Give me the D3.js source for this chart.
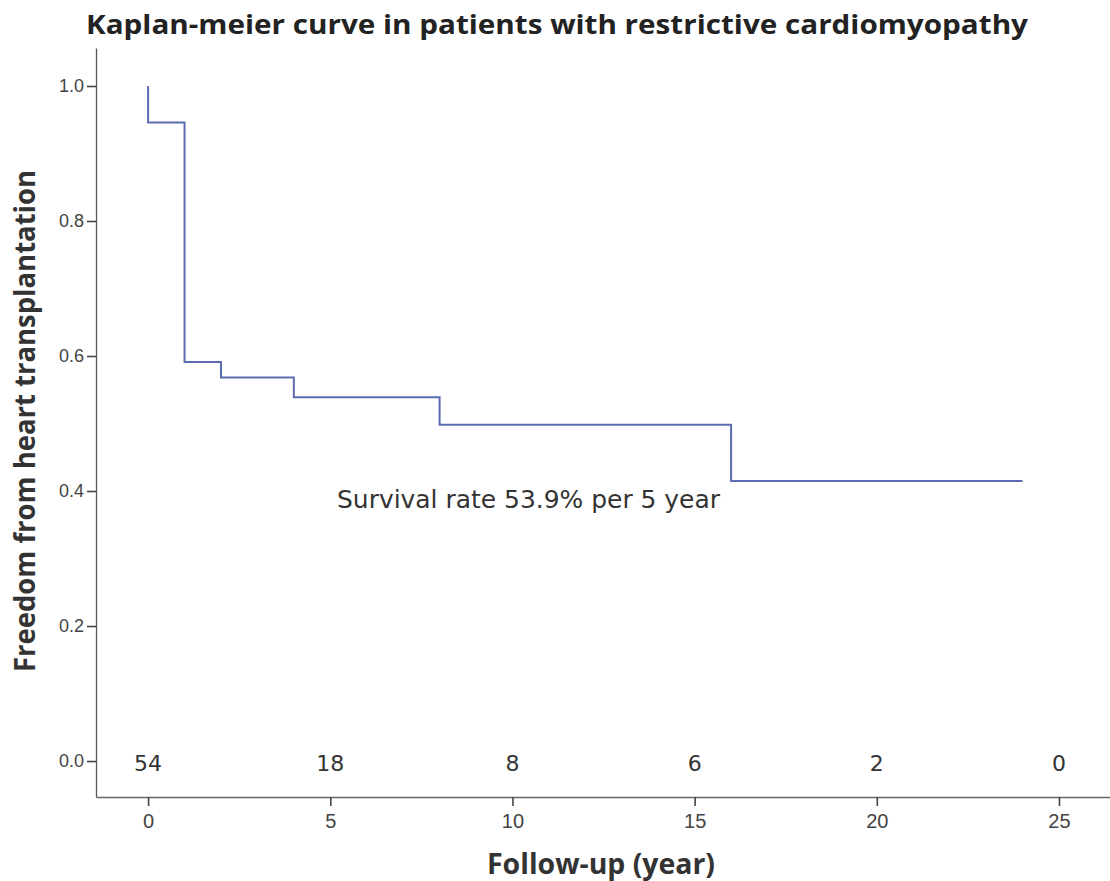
<!DOCTYPE html>
<html>
<head>
<meta charset="utf-8">
<script src="https://cdn.jsdelivr.net/npm/d3@7"></script>
<style>
  body { margin: 0; background: #fff; }
  text { fill: #333; }
</style>
</head>
<body>
<div id="km-chart"></div>
<script>
// step times (years) and survival levels after each step
const stepTimes = [0, 0, 1, 2, 4, 8, 16, 24];
const survival = [1.0, 0.946, 0.591, 0.568, 0.539, 0.498, 0.415, 0.415];
const riskTimes = [0, 5, 10, 15, 20, 25];
const riskCounts = [54, 18, 8, 6, 2, 0];
const xTicks = [0, 5, 10, 15, 20, 25];
const yTicks = [0.0, 0.2, 0.4, 0.6, 0.8, 1.0];

const width = 1110;
const height = 881;
const plot = { left: 96, right: 1110, top: 48, bottom: 797 };

const svg = d3.select("#km-chart")
  .append("svg")
  .attr("width", width)
  .attr("height", height)
  .style("display", "block");

const x = d3.scaleLinear()
  .domain([-1.43, 26.4])
  .range([plot.left, plot.right]);

const y = d3.scaleLinear()
  .domain([-0.0533, 1.0563])
  .range([plot.bottom, plot.top]);

// title
svg.append("text")
  .attr("x", 557)
  .attr("y", 34)
  .attr("text-anchor", "middle")
  .attr("textLength", 942)
  .attr("lengthAdjust", "spacingAndGlyphs")
  .style("font-family", "'Open Sans', sans-serif")
  .style("font-weight", "700")
  .style("font-size", "27px")
  .style("fill", "#222")
  .text("Kaplan-meier curve in patients with restrictive cardiomyopathy");

// axes
svg.append("g")
  .attr("transform", `translate(${plot.left},0)`)
  .call(d3.axisLeft(y).tickValues(yTicks).tickFormat(d3.format(".1f")).tickSize(9).tickSizeOuter(0))
  .call((g) => g.select(".domain").attr("stroke", "#555").attr("stroke-width", 1.3))
  .call((g) => g.selectAll(".tick line").attr("stroke", "#444").attr("stroke-width", 1.6))
  .call((g) => g.selectAll("text")
    .attr("x", -12)
    .style("font-family", "'Liberation Sans', Arial, sans-serif")
    .style("font-size", "18px")
    .style("fill", "#444"));

svg.append("g")
  .attr("transform", `translate(0,${plot.bottom})`)
  .call(d3.axisBottom(x).tickValues(xTicks).tickSize(9).tickSizeOuter(0))
  .call((g) => g.select(".domain").attr("stroke", "#666").attr("stroke-width", 1.3))
  .call((g) => g.selectAll(".tick line").attr("stroke", "#444").attr("stroke-width", 1.6))
  .call((g) => g.selectAll("text")
    .attr("y", 17)
    .style("font-family", "'Liberation Sans', Arial, sans-serif")
    .style("font-size", "20px")
    .style("fill", "#444"));

// axis titles
svg.append("text")
  .attr("x", 601)
  .attr("y", 874)
  .attr("text-anchor", "middle")
  .attr("textLength", 228)
  .attr("lengthAdjust", "spacingAndGlyphs")
  .style("font-family", "'Open Sans', sans-serif")
  .style("font-weight", "700")
  .style("font-size", "28px")
  .style("fill", "#333")
  .text("Follow-up (year)");

svg.append("text")
  .attr("transform", "translate(35,421) rotate(-90)")
  .attr("text-anchor", "middle")
  .attr("textLength", 502)
  .attr("lengthAdjust", "spacingAndGlyphs")
  .style("font-family", "'Open Sans', sans-serif")
  .style("font-weight", "700")
  .style("font-size", "28px")
  .style("fill", "#333")
  .text("Freedom from heart transplantation");

// Kaplan-Meier step curve
const points = stepTimes.map((t, i) => [t, survival[i]]);
const line = d3.line()
  .x((d) => x(d[0]))
  .y((d) => y(d[1]))
  .curve(d3.curveStepAfter);

svg.append("path")
  .datum(points)
  .attr("fill", "none")
  .attr("stroke", "#5b6cb2")
  .attr("stroke-width", 2)
  .attr("d", line);

// annotation
svg.append("text")
  .attr("x", 337)
  .attr("y", 508)
  .attr("textLength", 383)
  .attr("lengthAdjust", "spacingAndGlyphs")
  .style("font-family", "'DejaVu Sans', sans-serif")
  .style("font-size", "24px")
  .style("fill", "#333")
  .text("Survival rate 53.9% per 5 year");

// numbers at risk
svg.append("g")
  .selectAll("text")
  .data(riskTimes)
  .enter()
  .append("text")
  .attr("x", (t) => x(t))
  .attr("y", y(0) + 10)
  .attr("text-anchor", "middle")
  .style("font-family", "'DejaVu Sans', sans-serif")
  .style("font-size", "22px")
  .style("fill", "#333")
  .text((t, i) => riskCounts[i]);
</script>
</body>
</html>
